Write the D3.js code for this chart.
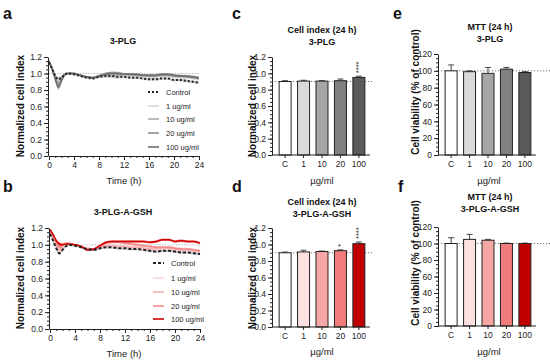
<!DOCTYPE html>
<html lang="en">
<head>
<meta charset="UTF-8">
<title>3-PLG cell index and MTT</title>
<script src="https://d3js.org/d3.v7.min.js"></script>
<style>
  body { margin: 0; background: #fff; }
  svg { font-family: "Liberation Sans", Arial, sans-serif; }
  .axis path, .axis line { stroke: #222; }
  .axis text { fill: #222; font-size: 8.5px; }
</style>
</head>
<body>
<script>
// ---- data ----
const times = [0, 0.5, 1, 1.5, 2, 2.5, 3, 4, 5, 6, 7, 8, 9, 10, 11, 12, 13, 14, 15, 16, 17, 18, 19, 20, 21, 22, 23, 24];

const ctrlA = [1.13, 1.06, 0.97, 0.93, 0.95, 0.99, 1.00, 0.99, 0.97, 0.95, 0.94, 0.96, 0.97, 0.97, 0.96, 0.96, 0.95, 0.95, 0.94, 0.93, 0.93, 0.94, 0.94, 0.92, 0.92, 0.91, 0.90, 0.89];
const a1   = [1.14, 1.07, 0.97, 0.91, 0.95, 0.99, 1.00, 1.00, 0.98, 0.96, 0.95, 0.97, 0.98, 0.99, 0.99, 0.98, 0.98, 0.97, 0.97, 0.96, 0.96, 0.97, 0.97, 0.96, 0.95, 0.95, 0.94, 0.93];
const a10  = [1.14, 1.06, 0.96, 0.89, 0.94, 0.99, 1.00, 1.00, 0.98, 0.96, 0.95, 0.97, 0.99, 1.00, 0.99, 0.99, 0.98, 0.98, 0.97, 0.97, 0.97, 0.98, 0.98, 0.97, 0.96, 0.96, 0.95, 0.94];
const a20  = [1.15, 1.06, 0.95, 0.86, 0.93, 0.99, 1.00, 1.00, 0.98, 0.96, 0.95, 0.97, 0.99, 1.00, 1.00, 0.99, 0.99, 0.98, 0.98, 0.97, 0.97, 0.98, 0.98, 0.97, 0.97, 0.96, 0.95, 0.94];
const a100 = [1.15, 1.05, 0.93, 0.83, 0.91, 0.98, 1.00, 1.00, 0.98, 0.96, 0.95, 0.97, 0.99, 1.00, 1.00, 0.99, 0.99, 0.99, 0.98, 0.98, 0.98, 0.99, 0.99, 0.98, 0.97, 0.97, 0.96, 0.95];
const semA = [0.02, 0.02, 0.02, 0.03, 0.02, 0.01, 0.01, 0.01, 0.01, 0.01, 0.01, 0.015, 0.02, 0.02, 0.02, 0.015, 0.015, 0.015, 0.015, 0.015, 0.015, 0.015, 0.015, 0.015, 0.015, 0.015, 0.015, 0.015];

const ctrlB = [1.13, 1.05, 0.96, 0.90, 0.94, 0.98, 1.00, 0.99, 0.97, 0.95, 0.94, 0.96, 0.97, 0.97, 0.96, 0.96, 0.95, 0.95, 0.94, 0.93, 0.92, 0.93, 0.93, 0.92, 0.91, 0.91, 0.90, 0.89];
const b1   = [1.16, 1.08, 0.99, 0.93, 0.96, 1.00, 1.01, 1.00, 0.98, 0.96, 0.95, 0.97, 0.98, 0.98, 0.98, 0.97, 0.97, 0.96, 0.95, 0.95, 0.94, 0.95, 0.95, 0.94, 0.94, 0.93, 0.93, 0.92];
const b10  = [1.17, 1.09, 1.00, 0.94, 0.97, 1.01, 1.01, 1.00, 0.98, 0.96, 0.95, 0.97, 0.99, 0.99, 0.98, 0.98, 0.97, 0.97, 0.96, 0.95, 0.95, 0.96, 0.96, 0.95, 0.94, 0.94, 0.93, 0.92];
const b20  = [1.17, 1.10, 1.02, 0.97, 0.99, 1.02, 1.02, 1.00, 0.98, 0.95, 0.95, 0.98, 1.02, 1.03, 1.03, 1.02, 1.01, 1.00, 0.99, 0.98, 0.97, 0.97, 0.97, 0.96, 0.95, 0.95, 0.94, 0.93];
const b100 = [1.18, 1.12, 1.05, 1.01, 1.00, 1.01, 1.01, 1.00, 0.98, 0.94, 0.95, 0.99, 1.03, 1.04, 1.04, 1.04, 1.04, 1.04, 1.04, 1.03, 1.04, 1.06, 1.06, 1.04, 1.05, 1.04, 1.04, 1.02];
const semB = [0.02, 0.02, 0.02, 0.025, 0.02, 0.01, 0.01, 0.01, 0.01, 0.015, 0.01, 0.015, 0.015, 0.015, 0.015, 0.015, 0.015, 0.015, 0.015, 0.015, 0.015, 0.015, 0.015, 0.015, 0.015, 0.015, 0.015, 0.015];

const legendLabels = ["Control", "1 ug/ml", "10 ug/ml", "20 ug/ml", "100 ug/ml"];

const doses = ["C", "1", "10", "20", "100"];
const ciPLG     = [0.900, 0.905, 0.905, 0.910, 0.950];
const ciPLGerr  = [0.010, 0.010, 0.005, 0.020, 0.015];
const ciGSH     = [0.900, 0.910, 0.915, 0.925, 1.010];
const ciGSHerr  = [0.008, 0.020, 0.005, 0.010, 0.020];
const mttPLG    = [100, 99, 97, 102, 98];
const mttPLGerr = [7, 1, 7, 2, 1];
const mttGSH    = [100, 105, 104, 100, 100];
const mttGSHerr = [7, 6, 1, 0.5, 0.5];

const grays = ["#ffffff", "#d9d9d9", "#a6a6a6", "#808080", "#5a5a5a"];
const reds  = ["#ffffff", "#fde0e0", "#f7a6a6", "#f27b7b", "#c00000"];
const lineGrays = ["#222", "#d6d6d6", "#aaaaaa", "#8c8c8c", "#6e6e6e"];
const lineReds  = ["#222", "#fcd9d9", "#f8b0b0", "#f28a8a", "#d40000"];

// ---- svg ----
const W = 550, H = 361;
const svg = d3.select("body").append("svg").attr("width", W).attr("height", H);

function letter(x, y, t) {
  svg.append("text").attr("x", x).attr("y", y).text(t)
    .attr("font-size", 16).attr("font-weight", "bold").attr("fill", "#111");
}
function title(x, y, lines) {
  lines.forEach((l, i) => {
    svg.append("text").attr("x", x).attr("y", y + i * 11.5).text(l)
      .attr("text-anchor", "middle").attr("font-size", 9).attr("font-weight", "bold").attr("fill", "#111");
  });
}
function ylabel(x, y, t) {
  svg.append("text").attr("transform", `translate(${x},${y}) rotate(-90)`)
    .attr("text-anchor", "middle").attr("font-size", 10).attr("font-weight", "bold")
    .attr("fill", "#111").text(t);
}
function xlabel(x, y, t) {
  svg.append("text").attr("x", x).attr("y", y).attr("text-anchor", "middle")
    .attr("font-size", 9.5).attr("fill", "#222").text(t);
}

function yAxis(g, y, x0, ticks, minor, fmt) {
  g.append("g").attr("class", "axis").attr("transform", `translate(${x0},0)`)
    .call(d3.axisLeft(y).tickValues(minor).tickSize(2).tickFormat(""))
    .call(a => a.select(".domain").remove());
  g.append("g").attr("class", "axis").attr("transform", `translate(${x0},0)`)
    .call(d3.axisLeft(y).tickValues(ticks).tickSize(4).tickSizeOuter(0).tickPadding(2).tickFormat(fmt));
}

// ---- line panels ----
function linePanel(o) {
  const x = d3.scaleLinear().domain([0, 24]).range([o.x0, o.x1]);
  const y = d3.scaleLinear().domain([0, 1.2]).range([o.y0, o.y1]);
  const g = svg.append("g");

  // reference line at 1.0
  g.append("line").attr("x1", x(0)).attr("x2", x(24)).attr("y1", y(1)).attr("y2", y(1))
    .attr("stroke", "#999").attr("stroke-dasharray", "1.2,1.6").attr("stroke-width", 0.8);

  const area = d3.area().x((d, i) => x(times[i])).y0((d, i) => y(d - o.sem[i])).y1((d, i) => y(d + o.sem[i]))
    .curve(d3.curveMonotoneX);
  const line = d3.line().x((d, i) => x(times[i])).y(d => y(d)).curve(d3.curveMonotoneX);

  // bands: control gray, treatments in their colour
  o.series.forEach((s, k) => {
    g.append("path").datum(s).attr("d", area)
      .attr("fill", k === 0 ? "#9a9a9a" : o.colors[k]).attr("opacity", k === 0 ? 0.55 : 0.45);
  });
  o.series.slice(1).forEach((s, k) => {
    g.append("path").datum(s).attr("d", line).attr("fill", "none")
      .attr("stroke", o.colors[k + 1]).attr("stroke-width", 1.5);
  });
  g.append("path").datum(o.series[0]).attr("d", line).attr("fill", "none")
    .attr("stroke", "#222").attr("stroke-width", 2).attr("stroke-dasharray", o.dash);

  yAxis(g, y, o.x0 - 1, [0, 0.2, 0.4, 0.6, 0.8, 1.0, 1.2], d3.range(0, 1.201, 0.05), d3.format(".1f"));
  g.append("g").attr("class", "axis").attr("transform", `translate(0,${o.y0})`)
    .call(d3.axisBottom(x).tickValues([0, 4, 8, 12, 16, 20, 24]).tickSize(4).tickSizeOuter(0).tickPadding(2));
  g.append("g").attr("class", "axis").attr("transform", `translate(0,${o.y0})`)
    .call(d3.axisBottom(x).tickValues(d3.range(0, 25, 1)).tickSize(2).tickFormat(""))
    .call(a => a.select(".domain").remove());

  // legend
  legendLabels.forEach((l, k) => {
    const ly = o.legY[k];
    g.append("line").attr("x1", o.legX).attr("x2", o.legX + 11).attr("y1", ly).attr("y2", ly)
      .attr("stroke", o.colors[k]).attr("stroke-width", k === 0 ? 1.8 : 1.6)
      .attr("stroke-dasharray", k === 0 ? o.dash : null);
    g.append("text").attr("x", o.legX + 18).attr("y", ly + 2.6).text(l)
      .attr("font-size", 7.5).attr("fill", "#222");
  });
}

linePanel({
  x0: 49, x1: 199, y0: 156, y1: 57,
  series: [ctrlA, a1, a10, a20, a100], sem: semA, colors: lineGrays, dash: "2,2",
  legX: 148, legY: [92, 106, 119, 133, 147]
});
linePanel({
  x0: 50, x1: 200, y0: 329, y1: 228,
  series: [ctrlB, b1, b10, b20, b100], sem: semB, colors: lineReds, dash: "3,2",
  legX: 153, legY: [263, 278, 292, 306, 319]
});

letter(3, 19, "a"); letter(3, 192, "b");
title(123, 44, ["3-PLG"]); title(123, 215, ["3-PLG-A-GSH"]);
ylabel(24, 106, "Normalized cell index"); ylabel(24, 278, "Normalized cell index");
xlabel(124, 184, "Time (h)"); xlabel(124, 357, "Time (h)");

// ---- bar panels ----
function barPanel(o) {
  const x = d3.scaleBand().domain(doses).range([o.x0 + 4, o.x1]).paddingInner(0.35).paddingOuter(0.17);
  const y = d3.scaleLinear().domain([0, o.ymax]).range([o.y0, o.y1]);
  const g = svg.append("g");

  // control reference line
  g.append("line").attr("x1", o.x0).attr("x2", o.refEnd).attr("y1", y(o.vals[0])).attr("y2", y(o.vals[0]))
    .attr("stroke", "#666").attr("stroke-dasharray", "1.2,1.8").attr("stroke-width", 0.9);

  // error bars (upper only)
  doses.forEach((d, i) => {
    const cx = x(d) + x.bandwidth() / 2;
    const top = y(o.vals[i] + o.errs[i]);
    g.append("line").attr("x1", cx).attr("x2", cx).attr("y1", y(o.vals[i])).attr("y2", top)
      .attr("stroke", "#333").attr("stroke-width", 0.9);
    g.append("line").attr("x1", cx - 3).attr("x2", cx + 3).attr("y1", top).attr("y2", top)
      .attr("stroke", "#333").attr("stroke-width", 0.9);
  });

  g.selectAll("rect.bar").data(o.vals).join("rect").attr("class", "bar")
    .attr("x", (d, i) => x(doses[i])).attr("width", x.bandwidth())
    .attr("y", d => y(d)).attr("height", d => o.y0 - y(d))
    .attr("fill", (d, i) => o.colors[i]).attr("stroke", "#222").attr("stroke-width", 1);

  yAxis(g, y, o.x0, o.ticks, o.minor, o.fmt);
  g.append("g").attr("class", "axis").attr("transform", `translate(0,${o.y0})`)
    .call(d3.axisBottom(x).tickSize(3).tickSizeOuter(0).tickPadding(3))
    .call(a => a.select(".domain").attr("d", `M${o.x0},0H${o.x1 + 2}`));

  // significance stars
  (o.stars || []).forEach(s => {
    const cx = x(doses[s.i]) + x.bandwidth() / 2;
    const sy = y(o.vals[s.i] + o.errs[s.i]) - 3;
    g.append("text").attr("transform", `translate(${cx + 2.5},${sy}) rotate(-90)`)
      .attr("font-size", 7.5).attr("fill", "#222").text(s.t);
  });
}

const ciTicks = [0, 0.2, 0.4, 0.6, 0.8, 1.0, 1.2];
const ciMinor = d3.range(0, 1.201, 0.05);
const mttTicks = [0, 20, 40, 60, 80, 100, 120];
const mttMinor = d3.range(0, 121, 5);

barPanel({ x0: 272, x1: 368, y0: 155, y1: 57, ymax: 1.2, vals: ciPLG, errs: ciPLGerr, colors: grays,
  ticks: ciTicks, minor: ciMinor, fmt: d3.format(".1f"), refEnd: 374, stars: [{ i: 4, t: "****" }] });
barPanel({ x0: 272, x1: 368, y0: 327, y1: 228, ymax: 1.2, vals: ciGSH, errs: ciGSHerr, colors: reds,
  ticks: ciTicks, minor: ciMinor, fmt: d3.format(".1f"), refEnd: 374, stars: [{ i: 3, t: "*" }, { i: 4, t: "****" }] });
barPanel({ x0: 438, x1: 534, y0: 155, y1: 54, ymax: 120, vals: mttPLG, errs: mttPLGerr, colors: grays,
  ticks: mttTicks, minor: mttMinor, fmt: d3.format("d"), refEnd: 550 });
barPanel({ x0: 438, x1: 534, y0: 326, y1: 227, ymax: 120, vals: mttGSH, errs: mttGSHerr, colors: reds,
  ticks: mttTicks, minor: mttMinor, fmt: d3.format("d"), refEnd: 550 });

letter(232, 19, "c"); letter(232, 192, "d");
letter(393, 19, "e"); letter(398, 192, "f");
title(322, 33, ["Cell index (24 h)", "3-PLG"]);
title(322, 205, ["Cell index (24 h)", "3-PLG-A-GSH"]);
title(490, 30, ["MTT (24 h)", "3-PLG"]);
title(490, 200, ["MTT (24 h)", "3-PLG-A-GSH"]);
ylabel(256, 106, "Normalized cell index"); ylabel(256, 278, "Normalized cell index");
ylabel(419, 92, "Cell viability (% of control)"); ylabel(419, 263, "Cell viability (% of control)");
xlabel(322, 184, "µg/ml"); xlabel(322, 355, "µg/ml");
xlabel(489, 184, "µg/ml"); xlabel(489, 355, "µg/ml");
</script>
</body>
</html>
